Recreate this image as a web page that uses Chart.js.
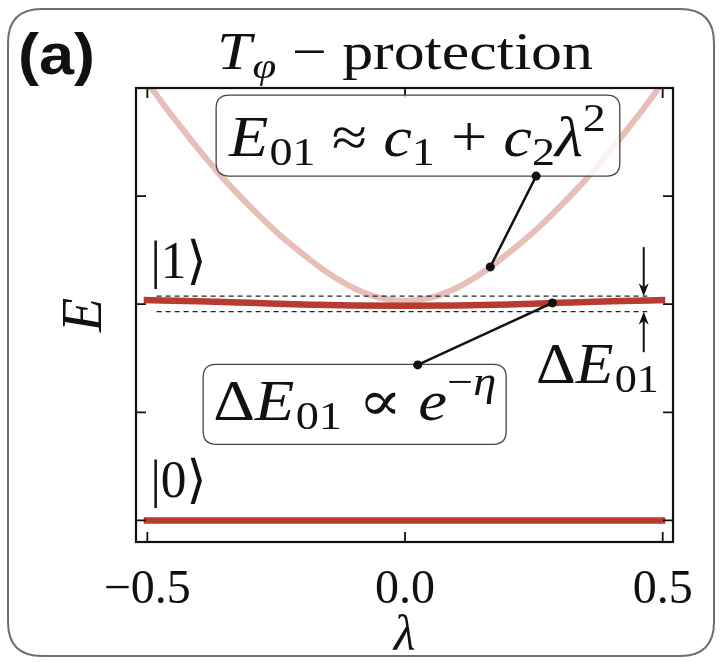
<!DOCTYPE html>
<html><head><meta charset="utf-8">
<script src="https://cdn.jsdelivr.net/npm/chart.js@4.4.1/dist/chart.umd.min.js"></script>
<style>html,body{margin:0;padding:0;background:#fff;} canvas{display:block;}</style>
</head><body>
<canvas id="c" width="721" height="663"></canvas>
<script>
// ---- data ----
const lambdaGrid = [-0.5,-0.45,-0.4,-0.35,-0.3,-0.25,-0.2,-0.15,-0.1,-0.05,0,0.05,0.1,0.15,0.2,0.25,0.3,0.35,0.4,0.45,0.5];
const e01Approx  = [4.05,3.73,3.43,3.15,2.90,2.67,2.47,2.29,2.15,2.06,2.03,2.06,2.15,2.29,2.47,2.67,2.90,3.15,3.43,3.73,4.05];
const level1Lambda = [-0.507,-0.4,-0.3,-0.2,-0.1,0,0.1,0.2,0.3,0.4,0.505];
const level1E      = [2.038,2.027,2.013,1.998,1.989,1.985,1.989,1.998,2.013,2.027,2.038];
const level0Lambda = [-0.507,0.505];
const level0E      = [0,0];
const dashLambda   = [-0.482,0.470];
const dashUpperE   = [2.074,2.074];
const dashLowerE   = [1.931,1.931];
const xTickValues  = [-0.5,0,0.5];
const xTickLabels  = ['\u22120.5','0.0','0.5'];
const yTickValues  = [0,1,2,3];

const pts = (xs, ys) => xs.map((v,i)=>({x:v, y:ys[i]}));
const SERIF = '"Liberation Serif", "DejaVu Serif", serif';

function runMath(ctx, parts, x0, base, targetW){
  let w = 0;
  parts.forEach(p => { ctx.font = p.f; p.w = ctx.measureText(p.t).width + (p.k||0); w += p.w; });
  const sx = targetW ? targetW / w : 1;
  ctx.save(); ctx.translate(x0, base); ctx.scale(sx, 1);
  ctx.textBaseline = 'alphabetic'; ctx.textAlign = 'left'; ctx.fillStyle = '#111';
  let cx = 0;
  parts.forEach(p => { ctx.font = p.f; ctx.fillText(p.t, cx, p.dy||0); cx += p.w; });
  ctx.restore();
}
function roundRect(ctx, x, y, w, h, r){
  ctx.beginPath();
  ctx.moveTo(x+r, y); ctx.lineTo(x+w-r, y); ctx.quadraticCurveTo(x+w, y, x+w, y+r);
  ctx.lineTo(x+w, y+h-r); ctx.quadraticCurveTo(x+w, y+h, x+w-r, y+h);
  ctx.lineTo(x+r, y+h); ctx.quadraticCurveTo(x, y+h, x, y+h-r);
  ctx.lineTo(x, y+r); ctx.quadraticCurveTo(x, y, x+r, y); ctx.closePath();
}
function arrow(ctx, x, y0, y1){
  const dir = Math.sign(y1 - y0);
  ctx.beginPath(); ctx.moveTo(x, y0); ctx.lineTo(x, y1 - dir*6); ctx.stroke();
  ctx.beginPath();
  ctx.moveTo(x, y1);
  ctx.lineTo(x - 5, y1 - dir*13);
  ctx.lineTo(x, y1 - dir*9);
  ctx.lineTo(x + 5, y1 - dir*13);
  ctx.closePath(); ctx.fill();
}

const decor = {
  id: 'decor',
  beforeDraw(chart){
    const ctx = chart.ctx;
    ctx.save(); ctx.fillStyle = '#fff'; ctx.fillRect(0,0,chart.width,chart.height); ctx.restore();
  },
  afterDatasetsDraw(chart){
    const {ctx, chartArea:a, scales:{x, y}} = chart;
    const X = v => x.getPixelForValue(v), Y = v => y.getPixelForValue(v);
    ctx.save();
    // axes frame
    ctx.strokeStyle = '#111'; ctx.lineWidth = 2.2;
    ctx.strokeRect(a.left, a.top, a.right - a.left, a.bottom - a.top);
    ctx.lineWidth = 1.8;
    xTickValues.forEach(v => {
      const px = X(v);
      ctx.beginPath(); ctx.moveTo(px, a.bottom); ctx.lineTo(px, a.bottom - 10);
      ctx.moveTo(px, a.top); ctx.lineTo(px, a.top + 10); ctx.stroke();
    });
    yTickValues.forEach(v => {
      const py = Y(v);
      ctx.beginPath(); ctx.moveTo(a.left, py); ctx.lineTo(a.left + 10, py);
      ctx.moveTo(a.right, py); ctx.lineTo(a.right - 10, py); ctx.stroke();
    });

    // annotation boxes
    ctx.lineWidth = 1.3; ctx.strokeStyle = '#444'; ctx.fillStyle = 'rgba(255,255,255,0.8)';
    let bx = X(-0.3665), by = Y(3.935);
    roundRect(ctx, bx, by, X(0.4168) - bx, Y(3.185) - by, 13); ctx.fill(); ctx.stroke();
    bx = X(-0.3917); by = Y(1.444);
    roundRect(ctx, bx, by, X(0.1963) - bx, Y(0.704) - by, 13);
    ctx.fillStyle = 'rgba(255,255,255,0.8)'; ctx.fill(); ctx.stroke();

    // connectors with dots
    ctx.strokeStyle = '#111'; ctx.fillStyle = '#111'; ctx.lineWidth = 2.4;
    const conn = (l0, e0, l1, e1) => {
      ctx.beginPath(); ctx.moveTo(X(l0), Y(e0)); ctx.lineTo(X(l1), Y(e1)); ctx.stroke();
      [[l0,e0],[l1,e1]].forEach(p => { ctx.beginPath(); ctx.arc(X(p[0]), Y(p[1]), 4.5, 0, Math.PI*2); ctx.fill(); });
    };
    conn(0.2544, 3.185, 0.1655, 2.345);
    conn(0.286, 2.012, 0.0246, 1.438);

    // delta arrows
    ctx.lineWidth = 2;
    arrow(ctx, X(0.4632), Y(2.528), Y(2.074));
    arrow(ctx, X(0.4632), Y(1.556), Y(1.931));

    // math texts
    const big = 'italic 56px ' + SERIF, up = '56px ' + SERIF, sub = '40px ' + SERIF, subI = 'italic 40px ' + SERIF;
    runMath(ctx, [
      {t:'E', f:big, k:1}, {t:'01', f:sub, dy:9}, {t:' \u2248 ', f:up},
      {t:'c', f:big}, {t:'1', f:sub, dy:9}, {t:' + ', f:up},
      {t:'c', f:big}, {t:'2', f:sub, dy:9}, {t:'\u03bb', f:big}, {t:'2', f:sub, dy:-25}
    ], X(-0.3414), Y(3.37), X(0.3897) - X(-0.3414));
    runMath(ctx, [
      {t:'\u0394', f:up}, {t:'E', f:big, k:1}, {t:'01', f:sub, dy:9}, {t:' \u221d ', f:up},
      {t:'e', f:big}, {t:'\u2212', f:sub, dy:-25}, {t:'\u03b7', f:subI, dy:-25}
    ], X(-0.3723), Y(0.926), X(0.177) - X(-0.3723));
    runMath(ctx, [
      {t:'\u0394', f:up}, {t:'E', f:big, k:1}, {t:'01', f:sub, dy:9}
    ], X(0.2544), Y(1.269), X(0.4923) - X(0.2544));

    // state labels
    const ket = '52px ' + SERIF;
    runMath(ctx, [{t:'|1\u27e9', f:ket}], X(-0.494), Y(2.24), 56);
    runMath(ctx, [{t:'|0\u27e9', f:ket}], X(-0.494), Y(0.22), 56);
    ctx.restore();
  },
  afterDraw(chart){
    const ctx = chart.ctx;
    ctx.save();
    // outer rounded panel border
    ctx.strokeStyle = '#6e6e6e'; ctx.lineWidth = 2;
    roundRect(ctx, 8, 9, 706, 647, 34); ctx.stroke();
    // panel label and title
    ctx.fillStyle = '#111';
    runMath(ctx, [{t:'(a)', f:'bold 58px "Liberation Sans", Arial, sans-serif'}], 18, 74, 77);
    runMath(ctx, [
      {t:'T', f:'italic 52px ' + SERIF, k:1}, {t:'\u03c6', f:'italic 36px ' + SERIF, dy:9},
      {t:' \u2212 protection', f:'52px ' + SERIF}
    ], 217, 69, 376);
    ctx.restore();
  }
};

new Chart(document.getElementById('c'), {
  type: 'scatter',
  data: {
    datasets: [
      {data: pts(level1Lambda, level1E), showLine:true, borderColor:'#b83a30', borderWidth:6.5, pointRadius:0, tension:0.4, cubicInterpolationMode:'monotone'},
      {data: pts(level0Lambda, level0E), showLine:true, borderColor:'#b83a30', borderWidth:6.5, pointRadius:0},
      {data: pts(dashLambda, dashUpperE), showLine:true, borderColor:'#222', borderWidth:1.3, borderDash:[5,4], pointRadius:0},
      {data: pts(dashLambda, dashLowerE), showLine:true, borderColor:'#222', borderWidth:1.3, borderDash:[5,4], pointRadius:0},
      {data: pts(lambdaGrid, e01Approx), showLine:true, borderColor:'rgba(205,110,100,0.45)', borderWidth:6, pointRadius:0, tension:0.4, cubicInterpolationMode:'monotone'}
    ]
  },
  options: {
    responsive:false, animation:false, devicePixelRatio:1,
    layout:{padding:{left:0, right:48, top:88, bottom:0}},
    plugins:{legend:{display:false}, tooltip:{enabled:false}},
    scales:{
      x:{
        type:'linear', min:-0.522, max:0.52,
        afterFit: s => { s.height = 121; },
        afterBuildTicks: s => { s.ticks = xTickValues.map(v => ({value:v})); },
        grid:{display:false, drawTicks:false}, border:{display:false},
        ticks:{color:'#111', padding:20, maxRotation:0, autoSkip:false,
               font:{family:SERIF, size:48},
               callback: v => xTickLabels[xTickValues.indexOf(v)]},
        title:{display:true, text:'\u03bb', color:'#111', font:{family:SERIF, size:50, style:'italic', lineHeight:0.6}, padding:{top:0, bottom:11}}
      },
      y:{
        type:'linear', min:-0.2, max:4.0,
        afterFit: s => { s.width = 136; },
        afterBuildTicks: s => { s.ticks = yTickValues.map(v => ({value:v})); },
        grid:{display:false, drawTicks:false}, border:{display:false},
        ticks:{display:false},
        title:{display:true, text:'E', color:'#111', font:{family:SERIF, size:56, style:'italic'}, padding:{top:53, bottom:0}}
      }
    }
  },
  plugins:[decor]
});
</script>
</body></html>
